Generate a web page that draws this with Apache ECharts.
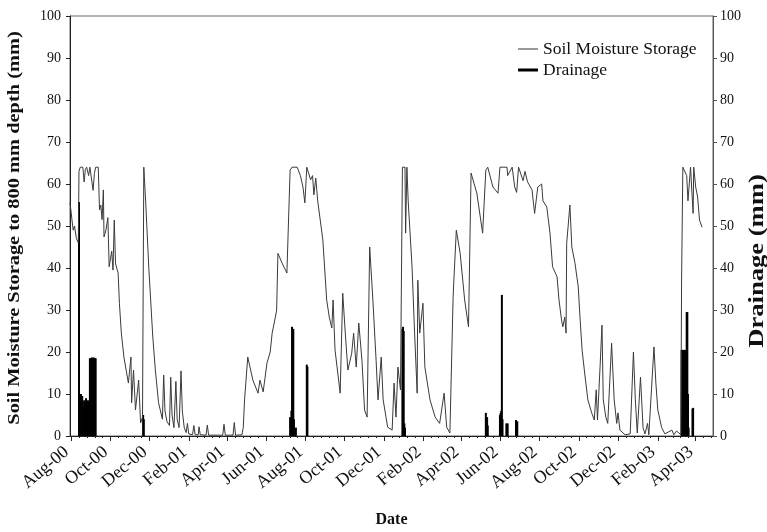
<!DOCTYPE html>
<html>
<head>
<meta charset="utf-8">
<title>Soil Moisture Storage and Drainage</title>
<script src="https://cdn.jsdelivr.net/npm/echarts@6/dist/echarts.min.js"></script>
<style>
  html, body { margin: 0; padding: 0; background: #fff; }
  #chart { width: 767px; height: 532px; }
</style>
</head>
<body>
<div id="chart"></div>
<script>
// Soil moisture storage to 800 mm depth (mm), daily record turning points
const moistureDates = [
  '2000-07-30','2000-08-01','2000-08-02','2000-08-04','2000-08-06','2000-08-09','2000-08-12','2000-08-13',
  '2000-08-15','2000-08-19','2000-08-21','2000-08-23','2000-08-25','2000-08-28','2000-08-30','2000-09-02',
  '2000-09-04','2000-09-06','2000-09-08','2000-09-12','2000-09-14','2000-09-16','2000-09-18','2000-09-20',
  '2000-09-21','2000-09-24','2000-09-27','2000-09-29','2000-10-03','2000-10-05','2000-10-07','2000-10-09',
  '2000-10-13','2000-10-15','2000-10-18','2000-10-22','2000-10-29','2000-11-02','2000-11-03','2000-11-06',
  '2000-11-09','2000-11-14','2000-11-17','2000-11-20','2000-11-22','2000-11-25','2000-11-30','2000-12-06',
  '2000-12-10','2000-12-15','2000-12-21','2000-12-23','2000-12-25','2000-12-28','2001-01-01','2001-01-03',
  '2001-01-05','2001-01-08','2001-01-11','2001-01-13','2001-01-16','2001-01-19','2001-01-21','2001-01-24',
  '2001-01-27','2001-01-29','2001-01-31','2001-02-06','2001-02-08','2001-02-10','2001-02-15','2001-02-16',
  '2001-02-18','2001-02-27','2001-03-01','2001-03-03','2001-03-25','2001-03-27','2001-03-29','2001-04-10',
  '2001-04-12','2001-04-14','2001-04-24','2001-04-26','2001-04-28','2001-05-03','2001-05-11','2001-05-19',
  '2001-05-22','2001-05-27','2001-05-30','2001-06-02','2001-06-07','2001-06-10','2001-06-15','2001-06-17',
  '2001-06-19','2001-06-26','2001-07-03','2001-07-06','2001-07-08','2001-07-11','2001-07-19','2001-07-24',
  '2001-07-28','2001-07-31','2001-08-03','2001-08-09','2001-08-12','2001-08-14','2001-08-17','2001-08-20',
  '2001-08-28','2001-09-03','2001-09-07','2001-09-11','2001-09-13','2001-09-16','2001-09-24','2001-09-28',
  '2001-10-02','2001-10-06','2001-10-12','2001-10-15','2001-10-19','2001-10-23','2001-10-28','2001-11-01',
  '2001-11-05','2001-11-09','2001-11-14','2001-11-19','2001-11-22','2001-11-27','2001-11-30','2001-12-07',
  '2001-12-14','2001-12-17','2001-12-20','2001-12-23','2001-12-27','2001-12-30','2002-01-03','2002-01-04',
  '2002-01-06','2002-01-08','2002-01-14','2002-01-18','2002-01-22','2002-01-23','2002-01-26','2002-01-31',
  '2002-02-03','2002-02-11','2002-02-19','2002-02-26','2002-03-05','2002-03-09','2002-03-14','2002-03-19',
  '2002-03-20','2002-03-24','2002-03-30','2002-04-06','2002-04-12','2002-04-16','2002-04-25','2002-05-04',
  '2002-05-09','2002-05-12','2002-05-20','2002-05-28','2002-05-31','2002-06-11','2002-06-12','2002-06-19',
  '2002-06-23','2002-06-26','2002-06-29','2002-07-01','2002-07-06','2002-07-09','2002-07-13','2002-07-20',
  '2002-07-24','2002-07-29','2002-08-04','2002-08-06','2002-08-12','2002-08-17','2002-08-21','2002-08-28',
  '2002-08-31','2002-09-04','2002-09-06','2002-09-09','2002-09-11','2002-09-12','2002-09-17','2002-09-20',
  '2002-09-25','2002-09-30','2002-10-03','2002-10-06','2002-10-10','2002-10-15','2002-10-21','2002-10-25',
  '2002-10-28','2002-10-30','2002-11-03','2002-11-06','2002-11-08','2002-11-12','2002-11-15','2002-11-21',
  '2002-11-25','2002-11-29','2002-12-01','2002-12-04','2002-12-12','2002-12-20','2002-12-25','2002-12-28',
  '2002-12-31','2003-01-05','2003-01-09','2003-01-12','2003-01-16','2003-01-18','2003-01-26','2003-01-29',
  '2003-02-01','2003-02-07','2003-02-12','2003-02-23','2003-02-26','2003-03-02','2003-03-09','2003-03-10',
  '2003-03-12','2003-03-15','2003-03-18','2003-03-20','2003-03-24','2003-03-28','2003-03-29','2003-04-01',
  '2003-04-04','2003-04-07','2003-04-11'
];
const moistureValues = [
  55.5, 53, 51.5, 49, 50, 47, 46, 63,
  64, 64, 60.5, 63.5, 64, 62, 64, 64,
  58.5, 62.5, 64, 64, 53.8, 55, 51.5, 58.6,
  47.4, 49, 52, 40.3, 44, 39.5, 51.4, 41,
  38.8, 31.6, 24.5, 18.8, 12.6, 18.8, 7.9, 15.7,
  6.2, 13.3, 3.1, 4.5, 64, 55.5, 39.5, 23.6,
  15.7, 7.9, 4, 14.5, 6, 3.5, 2.5, 14,
  5, 2, 13, 4, 2, 15.5, 6, 2,
  0.8, 3, 0.5, 0.3, 2.5, 0.3, 0.3, 2.2,
  0.3, 0.2, 2.6, 0.2, 0.2, 2.8, 0.2, 0.2,
  3.2, 0.2, 0.3, 2, 8.6, 18.8, 13.3, 10.2,
  13.3, 10.5, 10.8, 17.4, 20, 24.5, 28.3, 30,
  43.5, 41, 38.8, 38.5, 63.3, 64, 64, 62,
  59.3, 55.5, 64, 61, 62, 57.4, 61.4, 56,
  46.7, 32.4, 28.3, 25.7, 32.4, 20.5, 10.2, 34,
  24.5, 15.7, 19.7, 24.5, 16.4, 26.9, 18, 6.2,
  4.5, 45, 32.4, 18, 8.6, 18.8, 8.6, 2.1,
  1.4, 12.6, 4.5, 16.4, 11, 64, 64, 48.3,
  64, 56, 40.3, 24.5, 10.2, 37.1, 24.5, 31.6,
  16.4, 8.6, 4.5, 3, 10.2, 2.1, 0.7, 33,
  36.4, 49, 43.5, 32.4, 26, 62.6, 57.8, 48.3,
  63.3, 64, 59.3, 57.8, 64, 64, 62, 64,
  59.3, 58, 64, 64, 60.8, 63, 60.5, 58.6,
  53, 59.3, 60, 56, 54.5, 48.3, 40.3, 37.9,
  32.4, 27.6, 26, 28.3, 24.5, 45.9, 55, 45,
  41.1, 35.5, 27.6, 20.5, 15, 8.6, 5.5, 3.8,
  11, 3.8, 16.4, 26.4, 8.6, 4.5, 3, 22.1,
  8.6, 3, 5.5, 1.4, 0.3, 0.5, 20, 8.6,
  0.7, 14, 2, 0.5, 3, 0.3, 21.2, 12.6,
  6.2, 2, 0.5, 1.4, 0.3, 1.2, 0.3, 36.4,
  64, 64, 62, 56, 64, 53, 64, 59.3,
  56.9, 51.4, 49.7
];

// Daily drainage (mm)
const drainageDates = [
  '2000-08-13','2000-08-16','2000-08-18','2000-08-19','2000-08-21','2000-08-22','2000-08-24','2000-08-25',
  '2000-08-27','2000-08-28','2000-08-30','2000-08-31','2000-09-02','2000-09-04','2000-09-05','2000-09-07',
  '2000-09-08','2000-11-21','2000-11-22',
  '2001-07-08','2001-07-10','2001-07-11','2001-07-13','2001-07-14','2001-07-17','2001-08-03','2001-08-04',
  '2001-12-30','2001-12-31','2002-01-01','2002-01-02','2002-01-03',
  '2002-05-09','2002-05-11','2002-05-12','2002-05-31','2002-06-01','2002-06-02','2002-06-03','2002-06-04',
  '2002-06-10','2002-06-12','2002-06-25','2002-06-27',
  '2003-03-10','2003-03-11','2003-03-12','2003-03-13','2003-03-14','2003-03-15','2003-03-16','2003-03-17',
  '2003-03-18','2003-03-19','2003-03-20','2003-03-21','2003-03-27','2003-03-28'
];
const drainageValues = [
  55.7, 10, 9.5, 7, 8.5, 8, 9, 7.5,
  8.5, 8, 18.5, 18.5, 18.7, 18.5, 18.7, 18.5,
  18.5, 5, 4,
  4.5, 6, 26, 25.5, 4, 2, 17, 16.5,
  25.5, 26, 25, 3, 2,
  5.5, 4.5, 2.5, 5, 5.5, 6, 33.6, 4,
  3, 3, 3.8, 3.5,
  20.5, 20, 20.5, 19.5, 20.5, 20, 20.5, 16,
  29.5, 29.5, 10, 2, 6.5, 6.7
];

// Date axis ticks, every two months
const tickDates = [
  '2000-08-01','2000-10-01','2000-12-01','2001-02-01','2001-04-01','2001-06-01',
  '2001-08-01','2001-10-01','2001-12-01','2002-02-01','2002-04-01','2002-06-01',
  '2002-08-01','2002-10-01','2002-12-01','2003-02-01','2003-04-01'
];
const tickLabels = [
  'Aug-00','Oct-00','Dec-00','Feb-01','Apr-01','Jun-01',
  'Aug-01','Oct-01','Dec-01','Feb-02','Apr-02','Jun-02',
  'Aug-02','Oct-02','Dec-02','Feb-03','Apr-03'
];
const axisStart = '2000-07-30';
const axisEnd = '2003-04-28';

// Dates are placed on a day-number scale (days since 1970-01-01, UTC)
function dayNum(s) {
  const p = s.split('-').map(Number);
  return Date.UTC(p[0], p[1] - 1, p[2]) / 86400000;
}

const majorTicks = tickDates.map(dayNum);
// Minor ticks: five equal subdivisions between consecutive major ticks
const minorTicks = [];
for (let i = 0; i < majorTicks.length - 1; i++) {
  const step = (majorTicks[i + 1] - majorTicks[i]) / 5;
  for (let k = 1; k < 5; k++) minorTicks.push(majorTicks[i] + k * step);
}
{
  const n = majorTicks.length;
  const step = (majorTicks[n - 1] - majorTicks[n - 2]) / 5;
  for (let k = 1; k < 5; k++) {
    const v = majorTicks[n - 1] + k * step;
    if (v < dayNum(axisEnd)) minorTicks.push(v);
  }
}

const labelByDay = {};
majorTicks.forEach((t, i) => { labelByDay[t] = tickLabels[i]; });

const serif = 'Liberation Serif, Times New Roman, serif';
const axisColor = '#222';

const chart = echarts.init(document.getElementById('chart'), null, { renderer: 'canvas' });

chart.setOption({
  animation: false,
  backgroundColor: '#fff',
  textStyle: { fontFamily: serif },
  grid: {
    left: 70, right: 54, top: 16, bottom: 96,
    outerBoundsMode: 'none',
    containLabel: false,
    show: true, borderColor: '#666', borderWidth: 1, backgroundColor: 'transparent'
  },
  // Vertical axis titles, drawn in a tall narrow serif face
  graphic: [
    {
      type: 'text',
      x: 14.5, y: 228,
      rotation: Math.PI / 2,
      scaleX: 1.2,
      style: {
        text: 'Soil Moisture Storage to 800 mm depth (mm)',
        font: 'bold 17px "Liberation Serif", serif',
        fill: '#111',
        align: 'center',
        verticalAlign: 'middle'
      }
    },
    {
      type: 'text',
      x: 757.5, y: 261,
      rotation: Math.PI / 2,
      scaleX: 1.33,
      style: {
        text: 'Drainage (mm)',
        font: 'bold 20px "Liberation Serif", serif',
        fill: '#111',
        align: 'center',
        verticalAlign: 'middle'
      }
    }
  ],
  legend: [
    {
      data: [{ name: 'Soil Moisture Storage', icon: 'rect' }],
      left: 513, top: 35, itemWidth: 20, itemHeight: 1,
      textStyle: { fontFamily: serif, fontSize: 17.5, color: '#111' },
      itemStyle: { color: '#333' }
    },
    {
      data: [{ name: 'Drainage', icon: 'rect' }],
      left: 513, top: 56, itemWidth: 20, itemHeight: 3,
      textStyle: { fontFamily: serif, fontSize: 17.5, color: '#111' },
      itemStyle: { color: '#000' }
    }
  ],
  xAxis: [
    {
      type: 'value',
      min: dayNum(axisStart),
      max: dayNum(axisEnd),
      position: 'bottom',
      name: 'Date',
      nameLocation: 'middle',
      nameGap: 76,
      nameTextStyle: { fontFamily: serif, fontSize: 16, fontWeight: 'bold', color: '#111' },
      axisLine: { show: true, onZero: false, lineStyle: { color: axisColor, width: 1 } },
      axisTick: { show: true, inside: false, length: 5, customValues: majorTicks, lineStyle: { color: axisColor } },
      axisLabel: {
        show: true,
        customValues: majorTicks,
        rotate: 40,
        margin: 10,
        padding: [0, 6, 0, 0],
        fontFamily: serif,
        fontSize: 18,
        color: '#111',
        formatter: function (v) { return labelByDay[v] || ''; }
      },
      splitLine: { show: false }
    },
    {
      type: 'value',
      min: dayNum(axisStart),
      max: dayNum(axisEnd),
      position: 'bottom',
      axisLine: { show: false, onZero: false },
      axisTick: { show: true, inside: false, length: 2, customValues: minorTicks, lineStyle: { color: axisColor } },
      axisLabel: { show: false },
      splitLine: { show: false }
    }
  ],
  yAxis: [
    {
      type: 'value',
      min: 0, max: 100, interval: 10,
      position: 'left',
      axisLine: { show: true, lineStyle: { color: axisColor, width: 1 } },
      axisTick: { show: true, inside: false, length: 4, lineStyle: { color: axisColor } },
      axisLabel: { margin: 9, fontFamily: serif, fontSize: 14, color: '#111' },
      splitLine: { show: false }
    },
    {
      type: 'value',
      min: 0, max: 100, interval: 10,
      position: 'right',
      axisLine: { show: true, lineStyle: { color: '#555', width: 1 } },
      axisTick: { show: true, inside: false, length: 4, lineStyle: { color: '#555' } },
      axisLabel: { margin: 7, fontFamily: serif, fontSize: 14, color: '#111' },
      splitLine: { show: false }
    }
  ],
  series: [
    {
      name: 'Drainage',
      type: 'bar',
      xAxisIndex: 0,
      yAxisIndex: 1,
      barWidth: 2,
      barGap: '-100%',
      itemStyle: { color: '#000' },
      data: drainageDates.map((d, i) => [dayNum(d), drainageValues[i]])
    },
    {
      name: 'Soil Moisture Storage',
      type: 'line',
      xAxisIndex: 0,
      yAxisIndex: 0,
      symbol: 'none',
      lineStyle: { color: '#3a3a3a', width: 1 },
      itemStyle: { color: '#3a3a3a' },
      data: moistureDates.map((d, i) => [dayNum(d), moistureValues[i]])
    }
  ]
});
</script>
</body>
</html>
